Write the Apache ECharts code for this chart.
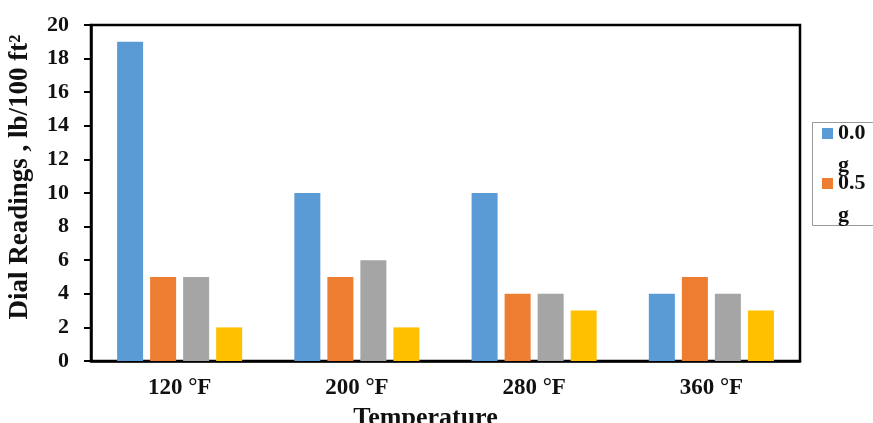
<!DOCTYPE html>
<html><head><meta charset="utf-8">
<script src="https://cdn.jsdelivr.net/npm/echarts@6/dist/echarts.min.js"></script>
<style>html,body{margin:0;padding:0;background:#fff}#c{width:873px;height:423px}</style>
</head><body><div id="c"></div>
<script>
const categories = ['120 °F', '200 °F', '280 °F', '360 °F'];
const seriesNames = ['0.0 g', '0.5 g', '1.0 g', '1.5 g'];
const s00 = [19, 10, 10, 4];
const s05 = [5, 5, 4, 5];
const s10 = [5, 6, 4, 4];
const s15 = [2, 2, 3, 3];
const yTicks = [0, 2, 4, 6, 8, 10, 12, 14, 16, 18, 20];
const colors = ['#5B9BD5', '#ED7D31', '#A5A5A5', '#FFC000'];
const values = [s00, s05, s10, s15];
const font = 'Liberation Serif, Times New Roman, serif';

const chart = echarts.init(document.getElementById('c'));
chart.setOption({
  animation: false,
  grid: {left: 91, right: 73, top: 25, bottom: 62, show: true, borderColor: '#000', borderWidth: 2.5,
    backgroundColor: 'transparent', containLabel: false, outerBoundsMode: 'none'},
  legend: {
    data: seriesNames.slice(0, 2), orient: 'vertical', left: 822, top: 85.5,
    itemWidth: 11, itemHeight: 11, itemGap: -46, padding: 0,
    icon: 'rect',
    formatter: n => '\u00a0\n' + n.replace(' ', '\n'),
    textStyle: {fontFamily: font, fontWeight: 'bold', fontSize: 22, color: '#111', lineHeight: 32}
  },
  graphic: [{
    type: 'rect', silent: true,
    shape: {x: 812.5, y: 122.5, width: 100, height: 103},
    style: {fill: 'none', stroke: '#999', lineWidth: 1}
  }],
  xAxis: {
    type: 'category', data: categories,
    name: 'Temperature', nameLocation: 'middle', nameGap: 32,
    nameTextStyle: {fontFamily: font, fontWeight: 'bold', fontSize: 26, color: '#111', padding: [0, 40, 0, 0]},
    axisLine: {lineStyle: {color: '#000', width: 2.5}},
    axisTick: {show: false},
    axisLabel: {fontFamily: font, fontWeight: 'bold', fontSize: 23, color: '#111', margin: 16}
  },
  yAxis: {
    type: 'value', min: 0, max: 20, interval: 2,
    name: 'Dial Readings , lb/100 ft²', nameLocation: 'middle', nameGap: 57,
    nameTextStyle: {fontFamily: font, fontWeight: 'bold', fontSize: 27, color: '#111', padding: [0, 0, 0, 32]},
    axisLine: {show: true, lineStyle: {color: '#000', width: 2.5}},
    axisTick: {show: true, inside: false, length: 7, lineStyle: {color: '#000', width: 2}},
    splitLine: {show: false},
    axisLabel: {fontFamily: font, fontWeight: 'bold', fontSize: 22, color: '#111', margin: 22,
      formatter: v => yTicks.includes(v) ? String(v) : ''}
  },
  series: values.map((d, i) => ({
    name: seriesNames[i], type: 'bar', data: d,
    itemStyle: {color: colors[i]},
    barWidth: 26, barGap: '27%', barCategoryGap: '29%'
  }))
});
</script></body></html>
